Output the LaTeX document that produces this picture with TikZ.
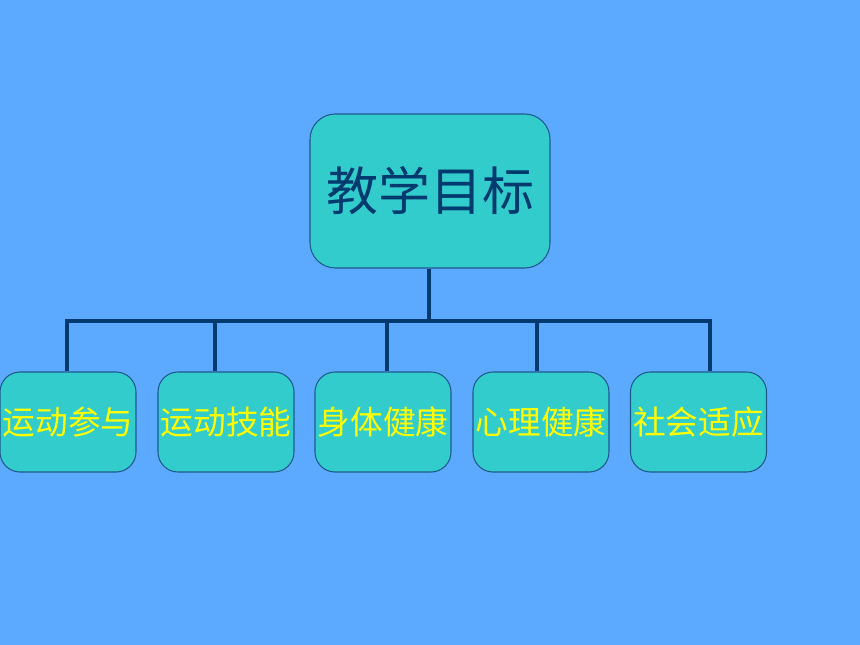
\documentclass[tikz,border=0pt]{standalone}
\usepackage{fontspec}
\newfontfamily\cjk{Noto Sans CJK SC}
\definecolor{bgblue}{HTML}{5BAAFF}
\definecolor{boxfill}{HTML}{33CCCC}
\definecolor{boxline}{HTML}{1F5A8C}
\definecolor{navy}{HTML}{003A6E}
\definecolor{yel}{HTML}{FFFF00}
\begin{document}
\begin{tikzpicture}[x=0.75pt,y=-0.75pt,
  topbox/.style={draw=boxline,line width=0.8pt,fill=boxfill,rounded corners=19pt,
    minimum width=180pt,minimum height=115.5pt,inner sep=0pt,
    font=\cjk\fontsize{39}{39}\selectfont,text=navy},
  subbox/.style={draw=boxline,line width=0.8pt,fill=boxfill,rounded corners=15pt,
    minimum width=102pt,minimum height=75pt,inner sep=0pt,
    font=\cjk\fontsize{24.5}{24.5}\selectfont,text=yel},
  link/.style={draw=navy,line width=2.5pt}]
\fill[bgblue] (0,0) rectangle (860,645);
\useasboundingbox (0,0) rectangle (860,645);
\node[topbox] (top) at (430,191) {\raisebox{-1pt}{教学目标}};
\node[subbox] (b1) at (68,422) {\raisebox{-1.5pt}{运动参与}};
\node[subbox] (b2) at (226,422) {\raisebox{-1.5pt}{运动技能}};
\node[subbox] (b3) at (383,422) {\raisebox{-1.5pt}{身体健康}};
\node[subbox] (b4) at (541,422) {\raisebox{-1.5pt}{心理健康}};
\node[subbox] (b5) at (698.5,422) {\raisebox{-1.5pt}{社会适应}};
\coordinate (hub) at (429,321);
\coordinate (l1) at (67,321);
\coordinate (l2) at (215,321);
\coordinate (l3) at (387,321);
\coordinate (l4) at (537,321);
\coordinate (l5) at (710,321);
\draw[link] (top.south -| hub) -- (hub);
\draw[link,line cap=rect] (l1) -- (l5);
\draw[link] (l1) -- (l1 |- b1.north);
\draw[link] (l2) -- (l2 |- b2.north);
\draw[link] (l3) -- (l3 |- b3.north);
\draw[link] (l4) -- (l4 |- b4.north);
\draw[link] (l5) -- (l5 |- b5.north);
\end{tikzpicture}
\end{document}
